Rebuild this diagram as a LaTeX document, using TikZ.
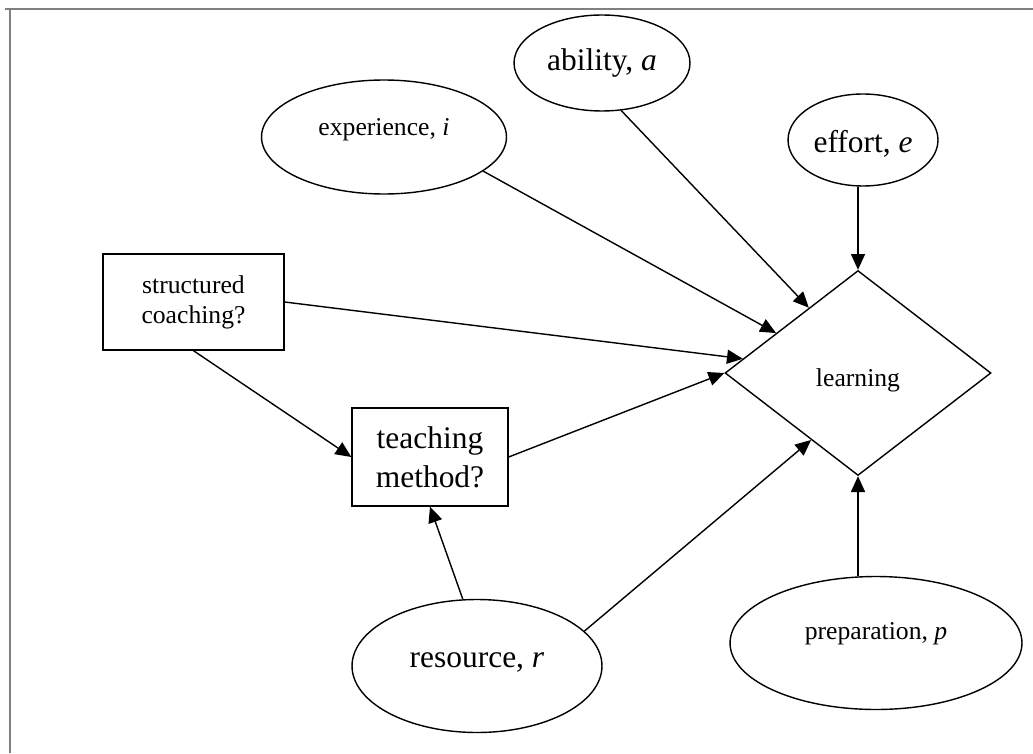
\documentclass[tikz,border=0pt]{standalone}
\usepackage{fontspec}
\setmainfont{Liberation Serif}
\usetikzlibrary{shapes.geometric,arrows.meta}
\newcommand\bigtxt{\fontsize{17.9}{22}\selectfont}
\newcommand\smalltxt{\fontsize{14.6}{17}\selectfont}
\newcommand\lift[2]{\raisebox{#1}[\height][\depth]{#2}}

\begin{document}
\begin{tikzpicture}[x=0.02cm,y=-0.02cm,
  oval/.style={ellipse,draw,line width=0.8pt,inner sep=0pt},
  box/.style={rectangle,draw,line width=0.8pt,inner sep=0pt,align=center},
  link/.style={line width=0.8pt,-{Triangle[length=9pt,width=8pt]}}]
\useasboundingbox (0,0) rectangle (1033,753);
\draw[gray,line width=1.5pt] (5,9) -- (1033,9);
\draw[gray,line width=1.5pt] (10,9) -- (10,753);

\node[oval,minimum width=3.52cm,minimum height=1.92cm,font=\bigtxt] (abil) at (602,63) {ability, \textit{a}};
\node[oval,minimum width=4.9cm,minimum height=2.28cm,font=\smalltxt] (exp) at (384,137) {\lift{4pt}{experience, \textit{i}}};
\node[oval,minimum width=3.0cm,minimum height=1.84cm,font=\bigtxt] (eff) at (863,140) {\lift{-2pt}{effort, \textit{e}}};

\node[box,minimum width=3.62cm,minimum height=1.92cm,font=\smalltxt] (sc) at (193.5,302) {structured\\coaching?};
\node[box,minimum width=3.12cm,minimum height=1.96cm,font=\bigtxt] (tm) at (430,457) {teaching\\method?};

\node[diamond,draw,line width=0.8pt,inner sep=0pt,minimum width=5.32cm,minimum height=4.1cm,font=\smalltxt] (learn) at (858,373) {\lift{-4pt}{learning}};

\node[oval,minimum width=5.0cm,minimum height=2.66cm,font=\bigtxt] (res) at (477,666) {\lift{2pt}{resource, \textit{r}}};
\node[oval,minimum width=5.84cm,minimum height=2.66cm,font=\smalltxt] (prep) at (876,643) {\lift{5pt}{preparation, \textit{p}}};

\draw[link] (abil.292) -- (learn.127);
\draw[link] (exp.341) -- (learn.154);
\draw[link] (eff.south -| learn.north) -- (learn.north);
\draw[link] (sc.east) -- (learn);
\draw[link] (sc.south) -- (tm.west);
\draw[link] (tm.east) -- (learn.west);
\draw[link] (res.102) -- (tm.south);
\draw[link] (res.18) -- (learn.235);
\draw[link] (learn.south |- prep.north) -- (learn.south);
\end{tikzpicture}
\end{document}
